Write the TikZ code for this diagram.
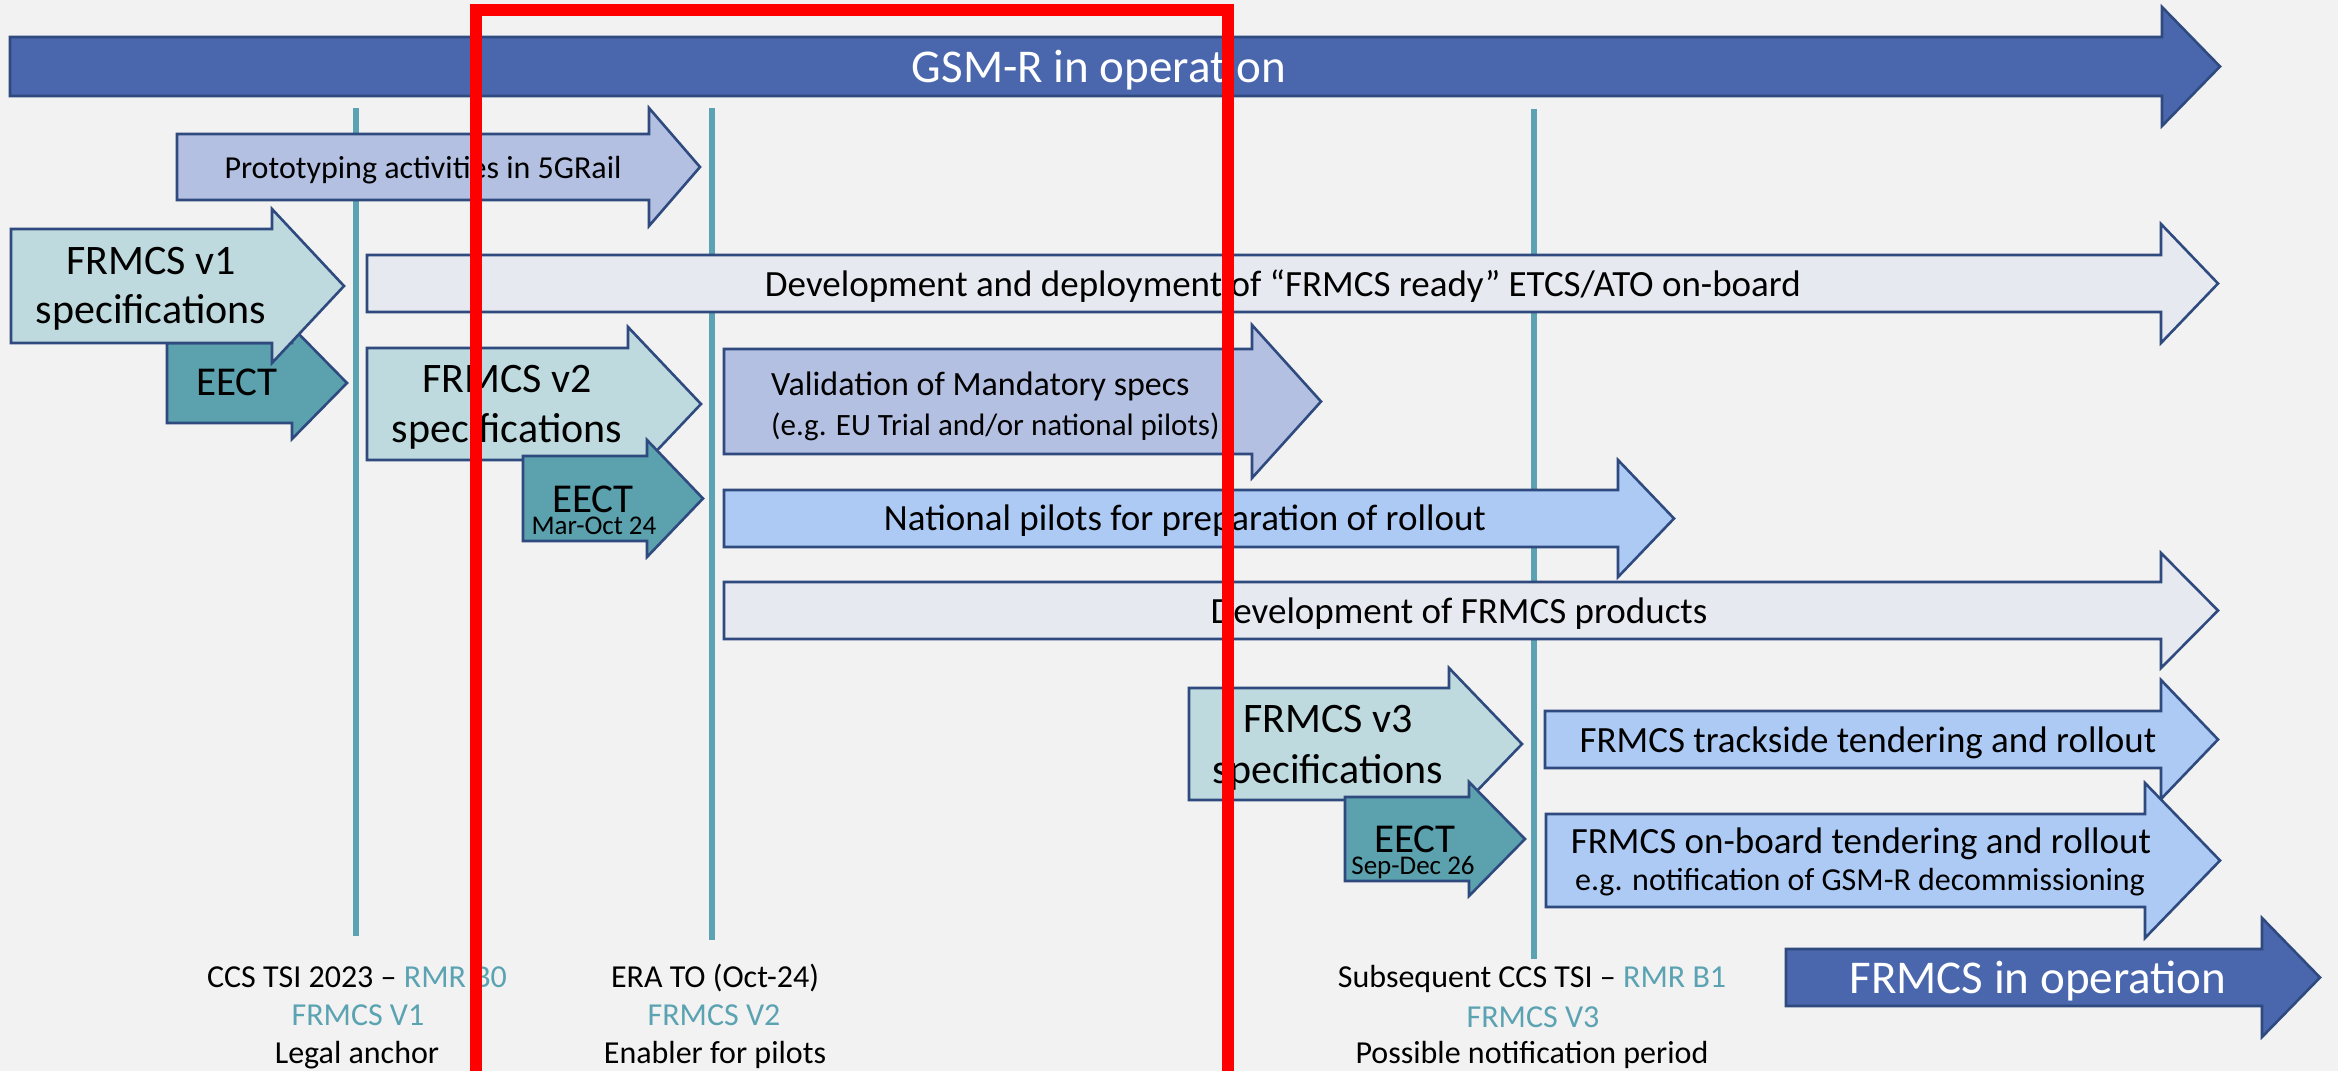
\documentclass[tikz,border=0pt]{standalone}
\usepackage{fontspec}
\setmainfont{Carlito}
\definecolor{bgc}{HTML}{F2F2F2}
\definecolor{edge}{HTML}{2F4A7E}
\definecolor{gsmblue}{HTML}{4A67AE}
\definecolor{lavender}{HTML}{B4C0E1}
\definecolor{lteal}{HTML}{BEDADE}
\definecolor{dteal}{HTML}{5BA1AE}
\definecolor{lgray}{HTML}{E6E9EF}
\definecolor{lblue}{HTML}{ADCAF5}
\definecolor{tealln}{HTML}{5BA3B2}
\newcommand{\fsz}[1]{\fontsize{#1}{#1}\selectfont}
% #1 style, #2 left, #3 top, #4 bottom, #5 head base, #6 head top, #7 tip, #8 head bottom
\newcommand{\blockarrow}[8]{\draw[#1] (#2,#3) -- (#5,#3) -- (#5,#6) -- (#7,{(#3+#4)/2}) -- (#5,#8) -- (#5,#4) -- (#2,#4) -- cycle;}
\begin{document}
\begin{tikzpicture}[x=1pt,y=-1pt,
  shp/.style={draw=edge, line width=2.6pt, line join=miter},
  darkarr/.style={shp, fill=gsmblue},
  lavarr/.style={shp, fill=lavender},
  specarr/.style={shp, fill=lteal},
  eectarr/.style={shp, fill=dteal},
  grayarr/.style={shp, fill=lgray},
  bluearr/.style={shp, fill=lblue},
  milestone/.style={draw=tealln, line width=6pt},
  txt/.style={inner sep=0pt, anchor=base, text=black},
  ltxt/.style={inner sep=0pt, anchor=base west, text=black},
  wtxt/.style={inner sep=0pt, anchor=base, text=white},
  frame/.style={draw=red, line width=12pt, line join=miter}]
\useasboundingbox (0,0) rectangle (2338,1071);
\fill[bgc] (0,0) rectangle (2338,1071);

% milestone lines
\coordinate (m1t) at (356,108); \coordinate (m1b) at (356,936);
\coordinate (m2t) at (712,108); \coordinate (m2b) at (712,940);
\coordinate (m3t) at (1534,109); \coordinate (m3b) at (1534,959);
\draw[milestone] (m1t) -- (m1b);
\draw[milestone] (m2t) -- (m2b);
\draw[milestone] (m3t) -- (m3b);

% arrows
\blockarrow{darkarr}{10}{37}{96}{2162}{7}{2220}{126}
\blockarrow{lavarr}{177}{134}{200}{649}{108}{700}{226}
\blockarrow{eectarr}{167}{343}{423}{292}{327}{347}{439}
\blockarrow{specarr}{11}{229}{343}{272}{209}{344}{363}
\blockarrow{grayarr}{367}{255}{312}{2161}{224}{2218}{343}
\blockarrow{specarr}{367}{348}{460}{628}{327}{701}{481}
\blockarrow{eectarr}{523}{456}{541}{647}{440}{703}{557}
\blockarrow{lavarr}{724}{349}{454}{1252}{325}{1321}{478}
\blockarrow{bluearr}{724}{490}{547}{1618}{460}{1674}{577}
\blockarrow{grayarr}{724}{582}{639}{2161}{553}{2218}{668}
\blockarrow{specarr}{1189}{688}{800}{1449}{668}{1522}{820}
\blockarrow{eectarr}{1345}{797}{881}{1469}{782}{1525}{896}
\blockarrow{bluearr}{1545}{711}{768}{2161}{680}{2218}{799}
\blockarrow{bluearr}{1546}{814}{907}{2145}{783}{2220}{938}
\blockarrow{darkarr}{1786}{949}{1006}{2262}{918}{2320}{1037}

% texts in arrows
\node[wtxt] (gsmr) at (1099,82) {\fsz{47}GSM-R in operation};
\node[txt] (proto) at (423,178) {\fsz{32}Prototyping activities in 5GRail};
\node[txt] (v1a) at (151,274) {\fsz{42}FRMCS v1};
\node[txt] (v1b) at (151,323) {\fsz{42}specifications};
\node[txt] (devetcs) at (1283,296) {\fsz{37}Development and deployment of “FRMCS ready” ETCS/ATO on-board};
\node[txt] (eect1) at (237,395) {\fsz{41}EECT};
\node[txt] (v2a) at (507,392) {\fsz{42}FRMCS v2};
\node[txt] (v2b) at (507,442) {\fsz{42}specifications};
\node[txt] (eect2) at (593,512) {\fsz{41}EECT};
\node[txt] (eect2d) at (594,534) {\fsz{27}Mar-Oct 24};
\node[ltxt] (vala) at (771,395) {\fsz{34}Validation of Mandatory specs};
\node[ltxt] (valb) at (771,435) {\fsz{31}(e.g. EU Trial and/or national pilots)};
\node[txt] (natp) at (1185,530) {\fsz{37}National pilots for preparation of rollout};
\node[txt] (devprod) at (1459,623) {\fsz{37}Development of FRMCS products};
\node[txt] (v3a) at (1328,732) {\fsz{42}FRMCS v3};
\node[txt] (v3b) at (1328,783) {\fsz{42}specifications};
\node[txt] (eect3) at (1415,852) {\fsz{41}EECT};
\node[txt] (eect3d) at (1413,874) {\fsz{27}Sep-Dec 26};
\node[txt] (track) at (1868,752) {\fsz{37}FRMCS trackside tendering and rollout};
\node[txt] (obA) at (1861,853) {\fsz{37}FRMCS on-board tendering and rollout};
\node[txt] (obB) at (1860,890) {\fsz{32}e.g. notification of GSM-R decommissioning};
\node[wtxt] (frop) at (2038,993) {\fsz{47}FRMCS in operation};

% milestone labels
\node[txt] (l1a) at (357,987) {\fsz{32}CCS TSI 2023 – \textcolor{tealln}{RMR B0}};
\node[txt] (l1b) at (358,1025) {\fsz{32}\textcolor{tealln}{FRMCS V1}};
\node[txt] (l1c) at (357,1063) {\fsz{32}Legal anchor};
\node[txt] (l2a) at (715,987) {\fsz{32}ERA TO (Oct-24)};
\node[txt] (l2b) at (714,1025) {\fsz{32}\textcolor{tealln}{FRMCS V2}};
\node[txt] (l2c) at (715,1063) {\fsz{32}Enabler for pilots};
\node[txt] (l3a) at (1532,987) {\fsz{32}Subsequent CCS TSI – \textcolor{tealln}{RMR B1}};
\node[txt] (l3b) at (1533,1027) {\fsz{32}\textcolor{tealln}{FRMCS V3}};
\node[txt] (l3c) at (1532,1063) {\fsz{32}Possible notification period};

% red frame
\coordinate (rbl) at (476,1100); \coordinate (rtl) at (476,10);
\coordinate (rtr) at (1228,10); \coordinate (rbr) at (1228,1100);
\draw[frame] (rbl) -- (rtl) -- (rtr) -- (rbr);
\end{tikzpicture}
\end{document}
